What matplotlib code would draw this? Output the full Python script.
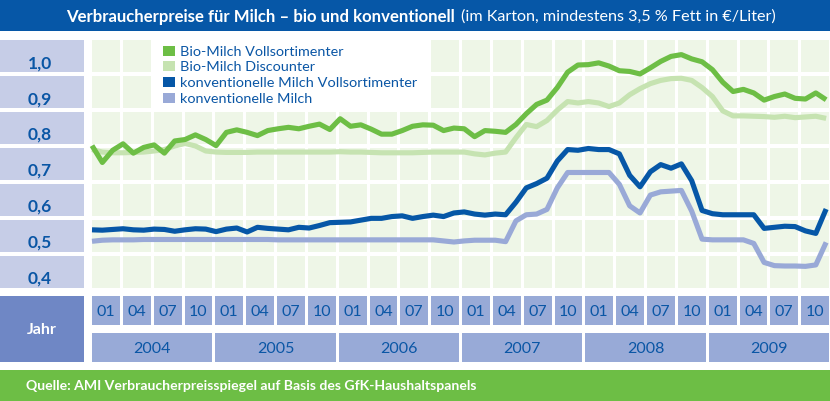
import matplotlib
matplotlib.use("Agg")
import matplotlib.pyplot as plt
from matplotlib.patches import Rectangle
from matplotlib.transforms import blended_transform_factory

# ---------------- data ----------------
years = ["2004", "2005", "2006", "2007", "2008", "2009"]
quarters = ["01", "04", "07", "10"]
y_ticks = [1.0, 0.9, 0.8, 0.7, 0.6, 0.5, 0.4]
y_tick_labels = ["1,0", "0,9", "0,8", "0,7", "0,6", "0,5", "0,4"]
series_names = ["Bio-Milch Vollsortimenter", "Bio-Milch Discounter",
                "konventionelle Milch Vollsortimenter", "konventionelle Milch"]

# monthly values Jan 2004 .. Dec 2009 (EUR/Liter)
bio_voll = [
    0.763, 0.716, 0.750, 0.768, 0.742, 0.758, 0.765, 0.742, 0.776, 0.780, 0.793, 0.780,
    0.763, 0.800, 0.807, 0.800, 0.791, 0.805, 0.810, 0.814, 0.810, 0.817, 0.823, 0.808,
    0.838, 0.817, 0.821, 0.809, 0.795, 0.795, 0.805, 0.817, 0.821, 0.820, 0.805, 0.812,
    0.810, 0.788, 0.805, 0.803, 0.800, 0.822, 0.852, 0.878, 0.890, 0.925, 0.968, 0.988,
    0.989, 0.994, 0.985, 0.972, 0.970, 0.963, 0.980, 0.998, 1.012, 1.017, 1.005, 0.997,
    0.975, 0.940, 0.914, 0.920, 0.910, 0.890, 0.900, 0.907, 0.895, 0.893, 0.910, 0.891]
bio_discount = [
    0.752, 0.745, 0.743, 0.743, 0.744, 0.745, 0.748, 0.752, 0.762, 0.769, 0.762, 0.748,
    0.745, 0.744, 0.744, 0.744, 0.745, 0.745, 0.745, 0.745, 0.745, 0.745, 0.745, 0.745,
    0.746, 0.745, 0.745, 0.744, 0.743, 0.743, 0.743, 0.743, 0.744, 0.745, 0.745, 0.745,
    0.745, 0.740, 0.737, 0.742, 0.745, 0.785, 0.822, 0.816, 0.833, 0.862, 0.886, 0.882,
    0.886, 0.882, 0.872, 0.882, 0.905, 0.922, 0.936, 0.945, 0.950, 0.951, 0.945, 0.925,
    0.900, 0.860, 0.846, 0.846, 0.845, 0.844, 0.842, 0.845, 0.841, 0.843, 0.845, 0.839]
konv_voll = [
    0.528, 0.527, 0.529, 0.531, 0.528, 0.527, 0.530, 0.529, 0.524, 0.528, 0.531, 0.530,
    0.523, 0.530, 0.533, 0.522, 0.535, 0.532, 0.530, 0.528, 0.535, 0.533, 0.540, 0.548,
    0.549, 0.550, 0.555, 0.560, 0.560, 0.565, 0.567, 0.560, 0.565, 0.569, 0.565, 0.575,
    0.578, 0.572, 0.569, 0.572, 0.570, 0.605, 0.645, 0.657, 0.672, 0.720, 0.752, 0.750,
    0.755, 0.752, 0.752, 0.740, 0.680, 0.648, 0.690, 0.710, 0.700, 0.712, 0.665, 0.582,
    0.573, 0.570, 0.570, 0.570, 0.570, 0.532, 0.535, 0.538, 0.537, 0.525, 0.518, 0.586]
konv = [
    0.496, 0.499, 0.500, 0.500, 0.500, 0.501, 0.501, 0.501, 0.501, 0.501, 0.501, 0.501,
    0.501, 0.501, 0.501, 0.501, 0.501, 0.501, 0.500, 0.500, 0.500, 0.500, 0.500, 0.500,
    0.500, 0.500, 0.500, 0.500, 0.500, 0.500, 0.500, 0.500, 0.500, 0.500, 0.497, 0.494,
    0.497, 0.499, 0.499, 0.499, 0.495, 0.553, 0.570, 0.572, 0.585, 0.645, 0.688, 0.688,
    0.688, 0.688, 0.688, 0.655, 0.595, 0.575, 0.625, 0.634, 0.636, 0.638, 0.580, 0.502,
    0.500, 0.500, 0.500, 0.500, 0.490, 0.437, 0.428, 0.427, 0.427, 0.426, 0.430, 0.493]

# ---------------- style ----------------
FONT = ["Lato", "DejaVu Sans"]
plt.rcParams["font.family"] = FONT
C_TITLE = "#0657a7"
C_TEXT = "#0a56a5"
C_CELL = "#eef6e7"
C_YBOX = "#c6cde7"
C_QBOX = "#98aad7"
C_JAHR = "#6f87c5"
C_FOOT = "#6dbe45"
colors = ["#6dbe45", "#c6e3b1", "#0657a7", "#99a9d7"]

W, H = 830, 402
fig = plt.figure(figsize=(W / 100, H / 100), dpi=100)
fig.patch.set_facecolor("white")
bg = fig.add_axes([0, 0, 1, 1])
bg.set_xlim(0, W)
bg.set_ylim(H, 0)
bg.axis("off")
renderer = fig.canvas.get_renderer()


def rect(x0, y0, x1, y1, color):
    bg.add_patch(Rectangle((x0, y0), x1 - x0, y1 - y0, facecolor=color,
                           edgecolor="none", linewidth=0))


def fit_text(x, y, s, width, size, **kw):
    t = bg.text(x, y, s, fontsize=size, **kw)
    w = t.get_window_extent(renderer).width
    t.set_fontsize(size * width / w)
    return t


# plot grid
PX0, PX1, PY0, PY1 = 92, 829, 41, 289
ncol, nrow = 24, 7
GX, GY = 3.0, 3.5
cp = (PX1 - PX0 + GX) / ncol
rp = (PY1 - PY0 + GY) / nrow
for r in range(nrow):
    y0 = PY0 + r * rp
    rect(0, y0, 84, y0 + rp - GY, C_YBOX)
    for c in range(ncol):
        if r < 2 and 2 <= c <= 10:
            continue
        x0 = PX0 + c * cp
        rect(x0, y0, x0 + cp - GX, y0 + rp - GY, C_CELL)

# title bar
rect(0, 0, W, 32, C_TITLE)
t1 = fit_text(66, 17, "Verbraucherpreise für Milch – bio und konventionell", 388, 11,
              color="white", fontweight="bold", va="center", ha="left")
bb = t1.get_window_extent(renderer)
fit_text(bb.x1 + 6, 17, "(im Karton, mindestens 3,5 % Fett in €/Liter)", 314, 11,
         color="white", va="center", ha="left")

# bottom axis boxes
rect(0, 297, 84, 363, C_JAHR)
bg.text(42, 330, "Jahr", color="white", fontsize=11.5, fontweight="bold",
        ha="center", va="center")
for j, yr in enumerate(years):
    for q, ql in enumerate(quarters):
        c = j * 4 + q
        x0 = PX0 + c * cp
        rect(x0, 297, x0 + cp - GX, 326, C_QBOX)
        bg.text(x0 + (cp - GX) / 2, 312, ql, color=C_TEXT, fontsize=11.5,
                ha="center", va="center")
    x0 = PX0 + j * 4 * cp
    rect(x0, 334, x0 + 4 * cp - GX, 363, C_QBOX)
    bg.text(x0 + (4 * cp - GX) / 2, 349, yr, color=C_TEXT, fontsize=11.5,
            ha="center", va="center")

# footer
rect(0, 371, W, H, C_FOOT)
fit_text(26, 386, "Quelle: AMI Verbraucherpreisspiegel auf Basis des GfK-Haushaltspanels",
         450, 9.5, color="white", fontweight="bold", ha="left", va="center")

# data axes
ax = fig.add_axes([PX0 / W, 1 - PY1 / H, (PX1 - PX0) / W, (PY1 - PY0) / H])
ax.set_facecolor("none")
ax.axis("off")
V1PX, PXPV = 61.7, 358.3
ax.set_ylim(1 - (PY1 - V1PX) / PXPV, 1 + (V1PX - PY0) / PXPV)
ax.set_xlim(0, (PX1 - PX0) / 10.34)
months = list(range(len(bio_voll)))
for vals, col, name in [(bio_discount, colors[1], series_names[1]),
                        (bio_voll, colors[0], series_names[0]),
                        (konv, colors[3], series_names[3]),
                        (konv_voll, colors[2], series_names[2])]:
    ax.plot(months, vals, color=col, lw=3.7, solid_joinstyle="round",
            solid_capstyle="butt", label=name, clip_on=False)

# y tick labels
tr = blended_transform_factory(bg.transData, ax.transData)
for v, lab in zip(y_ticks, y_tick_labels):
    ax.text(40, v, lab, transform=tr, color=C_TEXT, fontsize=12.5,
            fontweight="bold", ha="center", va="center_baseline")

# legend
for i, (name, col) in enumerate(zip(series_names, colors)):
    yc = 51.5 + i * 15.7
    rect(163, yc - 5, 175, yc + 5, col)
    if i == 2:
        fit_text(180, yc, name, 236, 10, color=C_TEXT, ha="left", va="center")
    else:
        bg.text(180, yc, name, color=C_TEXT, fontsize=10.4, ha="left", va="center")

fig.savefig("out.png", dpi=100, facecolor="white")
